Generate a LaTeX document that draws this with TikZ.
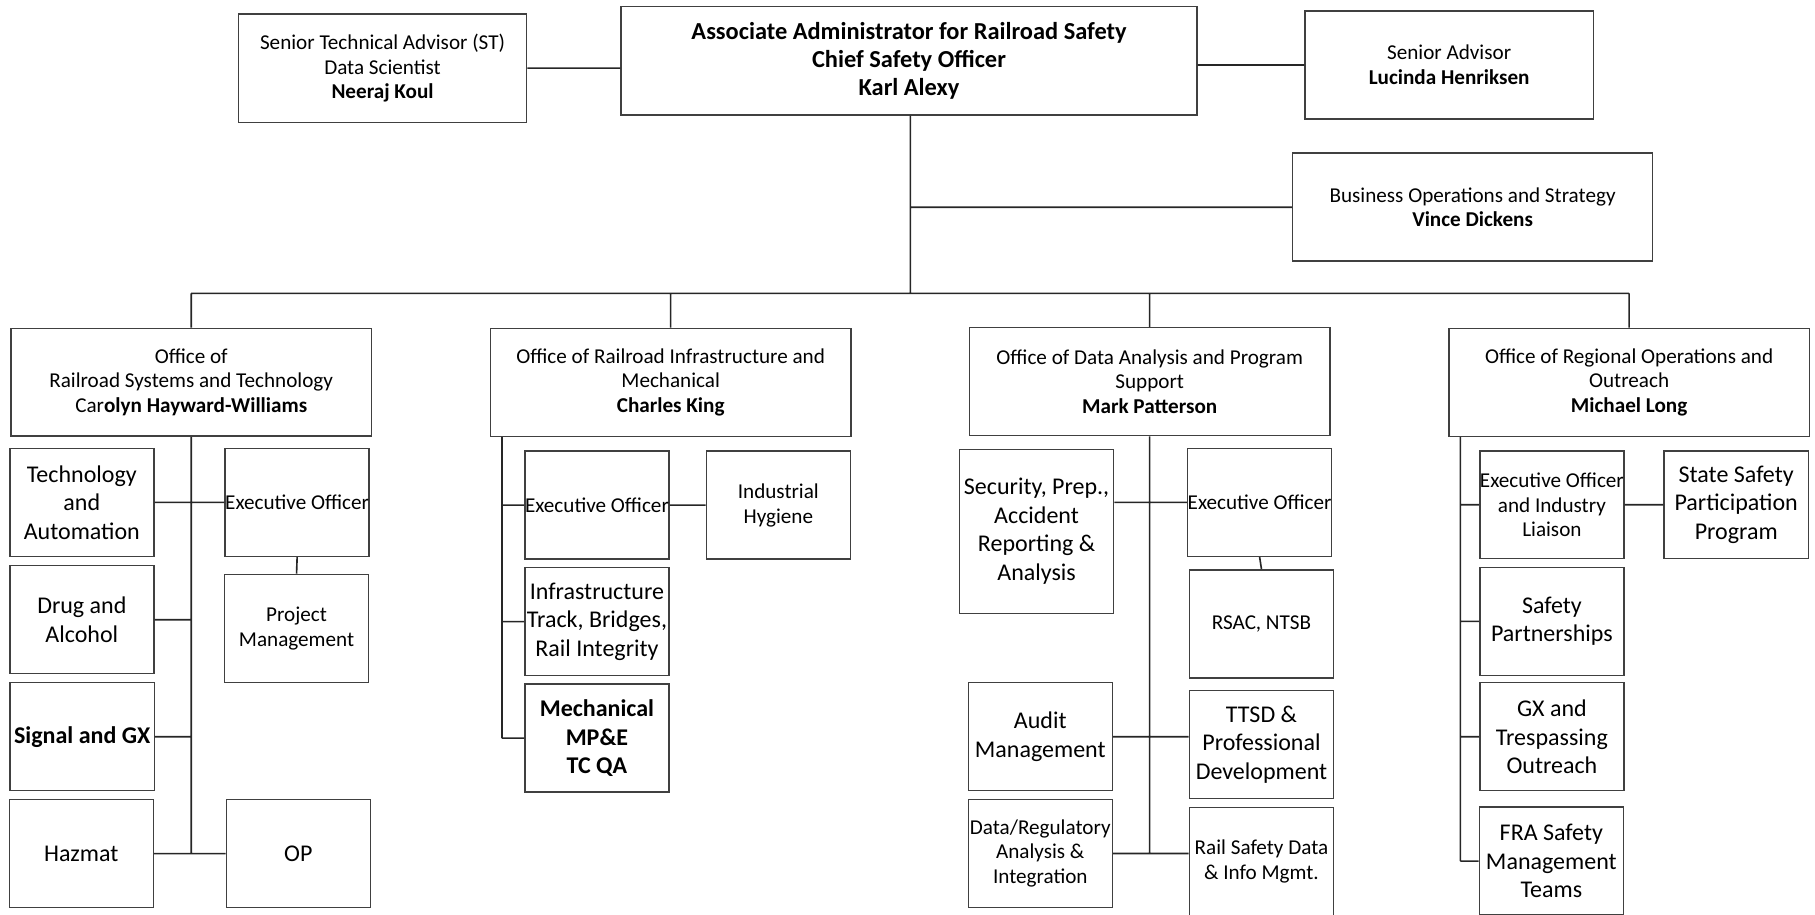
\documentclass[tikz,border=0pt]{standalone}
\usepackage{fontspec}
\setmainfont{Carlito}
\usepackage{tikz}
\usetikzlibrary{positioning}

\begin{document}
\begin{tikzpicture}[x=0.02cm, y=-0.02cm]
        % Setup the style for the boxes
        \tikzset{box style/.style={draw=black!75,
                                   line width=0.7pt,
                                   inner xsep=-1pt,
                                   inner ysep=1pt,
                                   align=center,
                                   minimum width=2.49cm,
                                   minimum height=1.866cm,
                                   font=\fontsize{11.8}{14}\selectfont}}
        \tikzset{small box style/.style={box style,
                                   font=\fontsize{10.4}{12.2}\selectfont}}
        \tikzset{office style/.style={small box style,
                                   minimum width=6.226cm}}
        \tikzset{head style/.style={small box style,
                                   minimum width=4.98cm,
                                   minimum height=1.87cm}}
        \tikzset{link style/.style={line width=0.8pt,
                                   draw=black!85}}

        \useasboundingbox (0,0) rectangle (1568,790);

        % Draw the top boxes
        \node[head style, minimum width=9.95cm, font=\fontsize{12}{13.7}\selectfont\bfseries] at (785.3,52.6) (admin) {Associate Administrator for Railroad Safety\\Chief Safety Officer\\Karl Alexy};
        \node[head style] at (330.5,58.9) (st) {Senior Technical Advisor (ST)\\Data Scientist\\\textbf{Neeraj Koul}};
        \node[head style] at (1251.9,56.2) (sa) {Senior Advisor\\\textbf{Lucinda Henriksen}};
        \node[office style] at (1272.2,179) (busops) {Business Operations and Strategy\\\textbf{Vince Dickens}};
        \coordinate (split) at (786.5,253.4);

        % Draw the offices
        \node[office style] at (165.2,330.2) (o1) {Office of\\Railroad Systems and Technology\\Car\textbf{olyn Hayward-Williams}};
        \node[office style] at (579.4,330.3) (o2) {Office of Railroad Infrastructure and\\Mechanical\\\textbf{Charles King}};
        \node[office style] at (993.2,329.7) (o3) {Office of Data Analysis and Program\\Support\\\textbf{Mark Patterson}};
        \node[office style] at (1407.4,330.3) (o4) {Office of Regional Operations and\\Outreach\\\textbf{Michael Long}};

        % Systems and Technology
        \node[box style] at (70.7,434) (tech) {Technology\\and\\Automation};
        \node[small box style] at (256.7,434) (exec1) {Executive Officer};
        \node[small box style] at (256.2,542.9) (pm) {Project\\Management};
        \node[box style] at (70.7,535.4) (drug) {Drug and\\Alcohol};
        \node[box style, font=\fontsize{11.8}{14}\selectfont\bfseries] at (71,636.5) (signal) {Signal and GX};
        \node[box style] at (70.2,737.5) (hazmat) {Hazmat};
        \node[box style] at (257.7,737.5) (op) {OP};

        % Infrastructure and Mechanical
        \node[small box style] at (515.7,436.4) (exec2) {Executive Officer};
        \node[small box style] at (672.4,436.4) (hygiene) {Industrial\\Hygiene};
        \node[box style] at (515.7,537) (infra) {Infrastructure\\Track, Bridges,\\Rail Integrity};
        \node[box style, font=\fontsize{11.8}{14}\selectfont\bfseries] at (515.7,637.7) (mech) {Mechanical\\MP\&E\\TC QA};

        % Data Analysis and Program Support
        \node[box style, minimum width=2.66cm, minimum height=2.834cm] at (895.5,459) (security) {Security, Prep.,\\Accident\\Reporting \&\\Analysis};
        \node[small box style] at (1088.2,434) (exec3) {Executive Officer};
        \node[small box style] at (1089.8,539) (rsac) {RSAC, NTSB};
        \node[box style] at (898.7,636.5) (audit) {Audit\\Management};
        \node[box style] at (1089.8,643.2) (ttsd) {TTSD \&\\Professional\\Development};
        \node[small box style] at (898.7,737.3) (datareg) {Data/Regulatory\\Analysis \&\\Integration};
        \node[small box style] at (1089.8,744.4) (raildata) {Rail Safety Data\\\& Info Mgmt.};

        % Regional Operations and Outreach
        \node[small box style] at (1340.7,436.1) (exec4) {Executive Officer\\and Industry\\Liaison};
        \node[box style] at (1499.9,436.1) (statesafety) {State Safety\\Participation\\Program};
        \node[box style] at (1340.7,536.8) (partners) {Safety\\Partnerships};
        \node[box style] at (1340.7,636.5) (gx) {GX and\\Trespassing\\Outreach};
        \node[box style] at (1340.2,743.9) (fra) {FRA Safety\\Management\\Teams};

        \coordinate (o2trunk) at ([xshift=0.21cm]o2.south west);
        \coordinate (o4trunk) at ([xshift=0.21cm]o4.south west);

        % Connect the boxes
        \draw[link style]
              (st.east) -- (st.east -| admin.west)
              (sa.west) -- (sa.west -| admin.east)
              (admin.south -| split) -- (split)
              (busops.west) -- (busops.west -| split)
              (o1.north |- split) -- (o4.north |- split)
              (o1.north) -- (o1.north |- split)
              (o2.north) -- (o2.north |- split)
              (o3.north) -- (o3.north |- split)
              (o4.north) -- (o4.north |- split)
              % Systems and Technology
              (o1.south) -- (o1.south |- hazmat.east)
              (tech.east) -- (exec1.west)
              (exec1.south) -- (pm.north)
              (drug.east) -- (drug.east -| o1.south)
              (signal.east) -- (signal.east -| o1.south)
              (hazmat.east) -- (op.west)
              % Infrastructure and Mechanical
              (o2trunk) -- (o2trunk |- mech.west)
              (exec2.west -| o2trunk) -- (exec2.west)
              (exec2.east) -- (hygiene.west)
              (infra.west -| o2trunk) -- (infra.west)
              (mech.west -| o2trunk) -- (mech.west)
              % Data Analysis and Program Support
              (o3.south) -- (o3.south |- datareg.east)
              (exec3.west -| security.east) -- (exec3.west)
              (exec3.south) -- (rsac.north)
              (audit.east) -- (audit.east -| ttsd.west)
              (datareg.east) -- (datareg.east -| raildata.west)
              % Regional Operations and Outreach
              (o4trunk) -- (o4trunk |- fra.west)
              (exec4.west -| o4trunk) -- (exec4.west)
              (exec4.east) -- (statesafety.west)
              (partners.west -| o4trunk) -- (partners.west)
              (gx.west -| o4trunk) -- (gx.west)
              (fra.west -| o4trunk) -- (fra.west);
\end{tikzpicture}
\end{document}
